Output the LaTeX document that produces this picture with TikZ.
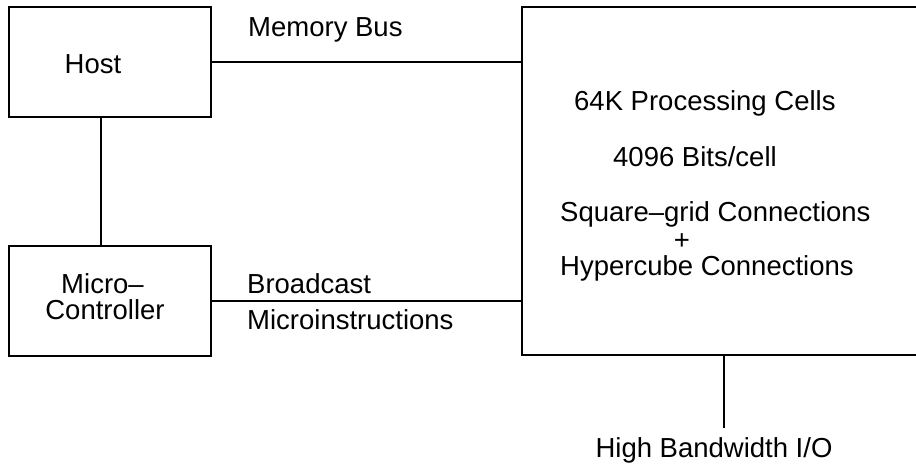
\documentclass[tikz,border=0pt]{standalone}
\usepackage{fontspec}
\setmainfont{Liberation Sans}
\begin{document}
\begin{tikzpicture}[x=1pt,y=-1pt,
  every node/.style={font=\fontsize{27.5}{27.5}\selectfont, inner sep=0pt},
  unit/.style={draw, line width=2pt, rectangle, minimum width=202pt, minimum height=110pt},
  wire/.style={line width=2pt},
  lbl/.style={anchor=base west},
  clbl/.style={anchor=base}]
  \useasboundingbox (0,0) rectangle (916,464);

  % host and micro-controller blocks
  \node[unit] (host) at (110,62) {};
  \node[unit] (micro) at (110,300.5) {};
  \node[clbl] (hostt) at (93,73) {Host};
  \node[clbl] (microa) at (102.5,293) {Micro–};
  \node[clbl] (microb) at (105,319) {Controller};

  % processor array (open on the right)
  \coordinate (atl) at (917,7);
  \coordinate (awl) at (522,7);
  \coordinate (abl) at (522,355);
  \coordinate (abr) at (917,355);
  \draw[wire, line join=miter] (atl) -- (awl) -- (abl) -- (abr);

  \node[lbl] (cells) at (574,110) {64K Processing Cells};
  \node[lbl] (bits) at (613,166) {4096 Bits/cell};
  \node[lbl] (grid) at (560,221) {Square–grid Connections};
  \node[clbl] (plus) at (682,249) {+};
  \node[lbl] (hyper) at (560,275) {Hypercube Connections};

  % connections
  \coordinate (ctl) at (101,0);
  \draw[wire] (host.south -| ctl) -- (micro.north -| ctl);
  \draw[wire] (host.east) -- (host.east -| awl);
  \draw[wire] (micro.east) -- (micro.east -| awl);
  \node[lbl] (membus) at (248,36) {Memory Bus};
  \node[lbl] (bcast) at (247,293) {Broadcast};
  \node[lbl] (minstr) at (247,329) {Microinstructions};

  % I/O port
  \coordinate (iotop) at (724,355);
  \coordinate (iobot) at (724,428);
  \draw[wire] (iotop) -- (iobot);
  \node[clbl] (io) at (714,457) {High Bandwidth I/O};
\end{tikzpicture}
\end{document}
